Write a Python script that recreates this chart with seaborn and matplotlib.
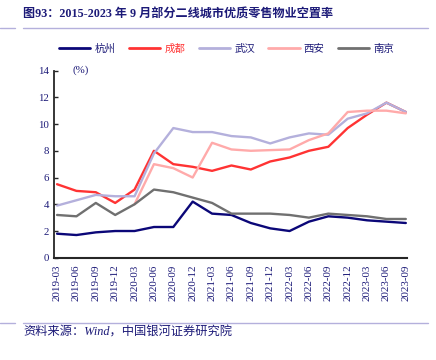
import pandas as pd
import matplotlib.pyplot as plt
import seaborn as sns
from matplotlib.lines import Line2D

quarters = ['2019-03', '2019-06', '2019-09', '2019-12', '2020-03', '2020-06', '2020-09',
            '2020-12', '2021-03', '2021-06', '2021-09', '2021-12', '2022-03', '2022-06',
            '2022-09', '2022-12', '2023-03', '2023-06', '2023-09']
hangzhou = [1.8, 1.7, 1.9, 2.0, 2.0, 2.3, 2.3, 4.2, 3.3, 3.2, 2.6, 2.2, 2.0, 2.7, 3.1, 3.0, 2.8, 2.7, 2.6]
chengdu = [5.5, 5.0, 4.9, 4.1, 5.1, 8.0, 7.0, 6.8, 6.5, 6.9, 6.6, 7.2, 7.5, 8.0, 8.3, 9.7, 10.7, 11.6, 10.9]
wuhan = [3.9, 4.3, 4.7, 4.6, 4.6, 7.8, 9.7, 9.4, 9.4, 9.1, 9.0, 8.55, 9.0, 9.3, 9.2, 10.4, 10.8, 11.6, 10.9]
xian = [None, None, None, None, 4.0, 7.0, 6.7, 6.0, 8.6, 8.1, 8.0, 8.05, 8.1, 8.8, 9.3, 10.9, 11.0, 11.0, 10.8]
nanjing = [3.2, 3.1, 4.1, 3.2, 4.0, 5.1, 4.9, 4.5, 4.1, 3.3, 3.3, 3.3, 3.2, 3.0, 3.3, 3.2, 3.1, 2.9, 2.9]

cities = ['杭州', '成都', '武汉', '西安', '南京']
colors = ['#0b0778', '#ff3333', '#b4b0dc', '#ffaaaa', '#707070']
navy = '#1c1a78'

rows = []
for city, vals in zip(cities, [hangzhou, chengdu, wuhan, xian, nanjing]):
    for i, v in enumerate(vals):
        rows.append({'x': i, 'value': v, 'city': city})
df = pd.DataFrame(rows).dropna()

sns.set_style('ticks')
plt.rcParams['font.family'] = ['Liberation Serif', 'Noto Sans CJK SC']

fig = plt.figure(figsize=(4.36, 3.6), dpi=100)
ax = fig.add_axes([0.124, 0.284, 0.809, 0.52])

sns.lineplot(data=df, x='x', y='value', hue='city', hue_order=cities,
             palette=dict(zip(cities, colors)), linewidth=1.7, ax=ax, legend=False)

ax.set_xlim(-0.155, 18.05)
ax.set_ylim(0, 14)
ax.set_yticks(range(0, 15, 2))
ax.set_xticks(range(len(quarters)))
ax.set_xticklabels(quarters, rotation=90, fontsize=7.9, color=navy)
ax.tick_params(axis='y', direction='in', length=3, labelsize=7.8, labelcolor=navy, width=1)
ax.tick_params(axis='x', length=0, pad=5)
ax.set_xlabel('')
ax.set_ylabel('')
for s in ['top', 'right']:
    ax.spines[s].set_visible(False)
ax.spines['left'].set_linewidth(1.3)
ax.spines['bottom'].set_linewidth(1.5)
ax.text(0.8, 14, '(%)', fontsize=7.8, color=navy, va='center')

handles = [Line2D([], [], color=c, linewidth=2) for c in colors]
leg = fig.legend(handles, cities, loc='center', bbox_to_anchor=(0.52, 0.864), ncol=5,
                 frameon=False, fontsize=7.5, handlelength=3.0, handletextpad=0.4,
                 columnspacing=1.3)
for t, c in zip(leg.get_texts(), [navy, '#ff3333', navy, navy, navy]):
    t.set_color(c)

fig.text(0.053, 0.958, '图93：2015-2023 年 9 月部分二线城市优质零售物业空置率',
         fontsize=8.7, fontweight='bold', color=navy, va='center')
fig.text(0.053, 0.075, '资料来源：Wind，中国银河证券研究院', fontsize=8.8,
         style='italic', color=navy, va='center')

for y in [1 - 28 / 360, 1 - 323 / 360]:
    fig.add_artist(Line2D([0, 0.035], [y, y], transform=fig.transFigure, color='#b4b0dc', linewidth=1))
    fig.add_artist(Line2D([0.053, 0.982], [y, y], transform=fig.transFigure, color='#b4b0dc', linewidth=1))

fig.savefig('out.png', dpi=100)
